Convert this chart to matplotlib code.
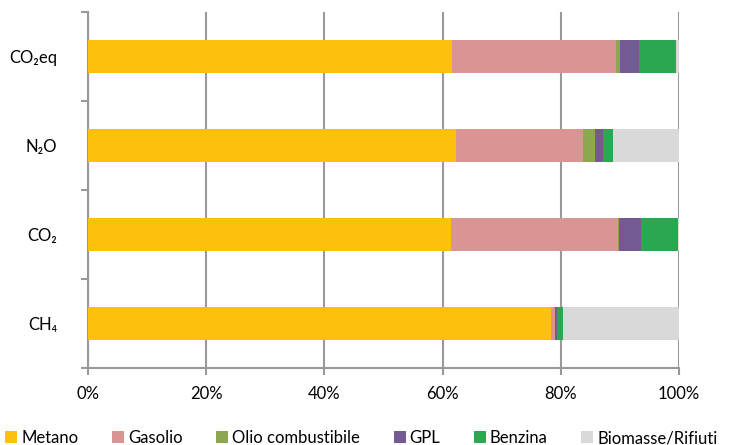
import numpy as np
import matplotlib.pyplot as plt

categorie = ["CH₄", "CO₂", "N₂O", "CO₂eq"]
fonti = ["Metano", "Gasolio", "Olio combustibile", "GPL", "Benzina", "Biomasse/Rifiuti"]
colori = ["#FCC00D", "#D99594", "#8DA650", "#735A93", "#2AA851", "#D9D9D9"]

# quote percentuali per categoria (CH4, CO2, N2O, CO2eq)
metano = [78.3, 61.5, 62.2, 61.6]
gasolio = [0.7, 28.1, 21.6, 27.7]
olio = [0.1, 0.3, 2.0, 0.7]
gpl = [0.2, 3.7, 1.3, 3.3]
benzina = [1.1, 6.2, 1.7, 6.2]
biomasse = [19.6, 0.2, 11.2, 0.5]

serie = [metano, gasolio, olio, gpl, benzina, biomasse]

plt.rcParams['font.family'] = ['Lato', 'DejaVu Sans']

fig = plt.figure(figsize=(7.38, 4.45), dpi=100)
ax = fig.add_axes([88 / 738, 1 - 368 / 445, (679 - 88) / 738, (368 - 12) / 445])

y = np.arange(len(categorie))
base = np.zeros(len(categorie))
for nome, valori, col in zip(fonti, serie, colori):
    ax.barh(y, valori, left=base, height=0.38, color=col, label=nome, zorder=3)
    base += np.array(valori)

ax.set_xlim(0, 100)
ax.set_ylim(-0.5, 3.5)
ax.set_xticks(np.arange(0, 101, 20))
ax.set_xticklabels([f"{v}%" for v in range(0, 101, 20)], fontsize=12)
ax.set_yticks(y)
ax.set_yticklabels(categorie, fontsize=12)
ax.set_yticks(np.arange(-0.5, 3.6, 1), minor=True)
ax.tick_params(axis='y', which='major', length=0, pad=22)
ax.tick_params(axis='y', which='minor', length=5, color='#999999', width=1.5)
ax.tick_params(axis='x', length=5, color='#999999', width=1.5, pad=8)
ax.grid(axis='x', color='#999999', linewidth=1.5, zorder=0)

for s in ['top', 'right']:
    ax.spines[s].set_visible(False)
for s in ['left', 'bottom']:
    ax.spines[s].set_color('#999999')
    ax.spines[s].set_linewidth(1.5)

fig.legend(loc='center left', bbox_to_anchor=(0.004, 1 - 438 / 445), ncol=6, frameon=False,
           fontsize=12, handlelength=0.72, handleheight=0.72, handletextpad=0.25,
           columnspacing=2.0, borderaxespad=0.0, borderpad=0.15)

fig.savefig("out.png", dpi=100)
